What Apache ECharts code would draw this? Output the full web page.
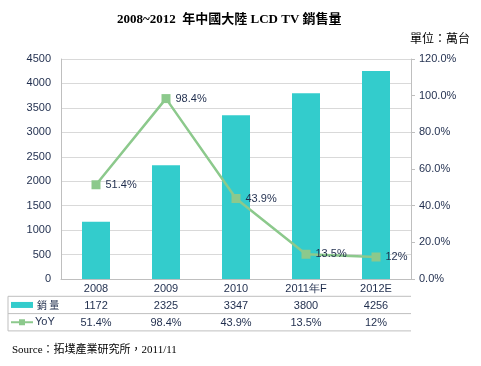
<!DOCTYPE html>
<html><head><meta charset="utf-8">
<script src="https://cdn.jsdelivr.net/npm/echarts@6/dist/echarts.min.js"></script>
<style>html,body{margin:0;padding:0;background:#fff}#c{width:481px;height:366px}</style>
</head><body><div id="c"></div>
<script>
var categories = ['2008', '2009', '2010', '2011年F', '2012E'];
var sales = [1172, 2325, 3347, 3800, 4256];
var yoy = [51.4, 98.4, 43.9, 13.5, 12];
var yoyLabels = ['51.4%', '98.4%', '43.9%', '13.5%', '12%'];
var leftTicks = [0, 500, 1000, 1500, 2000, 2500, 3000, 3500, 4000, 4500];
var rightTicks = [0, 20, 40, 60, 80, 100, 120];

var GL = 61, GR = 411, GT = 59, GB = 279;
var ROW = 17.3;
var teal = '#33CCCC', green = '#8CC98C', txt = '#1F2D4D', line = '#BFBFBF';
var chart = echarts.init(document.getElementById('c'));
var font = 'Liberation Sans, Arial, sans-serif';

function hline(y){ return {type:'line', shape:{x1:8,y1:y,x2:GR,y2:y}, style:{stroke:line,lineWidth:1}}; }

chart.setOption({
  animation:false,
  textStyle:{fontFamily:font},
  title:[{text:'2008~2012  年中國大陸 LCD TV 銷售量', left:112, top:8,
    textStyle:{fontFamily:'Liberation Serif, Noto Sans CJK TC, serif', fontWeight:'bold', fontSize:13, color:'#000'}},
    {text:'單位：萬台', right:6, top:27, textStyle:{fontFamily:'Noto Sans CJK TC', fontWeight:'normal', fontSize:12, color:'#000'}},
    {text:'Source：拓墣產業研究所，2011/11', left:7, top:340, textStyle:{fontFamily:'Liberation Serif, Noto Sans CJK TC, serif', fontWeight:'normal', fontSize:11, color:'#000'}}],
  grid:{left:GL, right:481-GR, top:GT, bottom:366-GB},
  xAxis:[
    {type:'category', data:categories, axisLine:{lineStyle:{color:line}},
     axisTick:{length:52, lineStyle:{color:line}},
     axisLabel:{color:txt, fontSize:11, margin:4}},
    {type:'category', data:sales.map(String), position:'bottom', offset:ROW,
     axisLine:{show:false}, axisTick:{show:false}, axisLabel:{color:txt, fontSize:11, margin:4}},
    {type:'category', data:yoyLabels, position:'bottom', offset:ROW*2,
     axisLine:{show:false}, axisTick:{show:false}, axisLabel:{color:txt, fontSize:11, margin:4}}
  ],
  yAxis:[
    {type:'value', min:leftTicks[0], max:leftTicks[leftTicks.length-1], interval:500,
     axisLine:{show:true, lineStyle:{color:line}}, axisTick:{show:false},
     splitLine:{lineStyle:{color:'#D9D9D9'}},
     axisLabel:{color:txt, fontSize:11, margin:10, formatter:function(v){return String(v);}}},
    {type:'value', min:rightTicks[0], max:rightTicks[rightTicks.length-1], interval:20, position:'right',
     axisLine:{show:true, lineStyle:{color:line}}, axisTick:{show:true, length:4, lineStyle:{color:line}},
     splitLine:{show:false},
     axisLabel:{color:txt, fontSize:11, margin:8, formatter:function(v){return v.toFixed(1)+'%';}}}
  ],
  series:[
    {type:'bar', name:'銷量', data:sales, barWidth:'40%', itemStyle:{color:teal}, xAxisIndex:0, yAxisIndex:0},
    {type:'line', name:'YoY', data:yoy, yAxisIndex:1, xAxisIndex:0, symbol:'rect', symbolSize:9,
     lineStyle:{color:green, width:2.5}, itemStyle:{color:green},
     label:{show:true, position:'right', distance:5, color:txt, fontSize:11,
       formatter:function(p){return yoyLabels[p.dataIndex];}}}
  ],
  graphic:[
    hline(GB+ROW), hline(GB+ROW*2), hline(GB+ROW*3),
    {type:'line', shape:{x1:8,y1:GB+ROW,x2:8,y2:GB+ROW*3}, style:{stroke:line}},
    {type:'rect', shape:{x:11,y:GB+ROW*1.5-3,width:22,height:6}, style:{fill:teal}},
    {type:'text', style:{x:37,y:GB+ROW*1.5,text:'銷 量',fill:txt,font:'10px Noto Sans CJK TC',verticalAlign:'middle'}},
    {type:'line', shape:{x1:11,y1:GB+ROW*2.5,x2:33,y2:GB+ROW*2.5}, style:{stroke:green,lineWidth:2}},
    {type:'rect', shape:{x:19,y:GB+ROW*2.5-3,width:6,height:6}, style:{fill:green}},
    {type:'text', style:{x:35,y:GB+ROW*2.5,text:'YoY',fill:txt,font:'11px '+font,verticalAlign:'middle'}}
  ]
});
</script></body></html>
